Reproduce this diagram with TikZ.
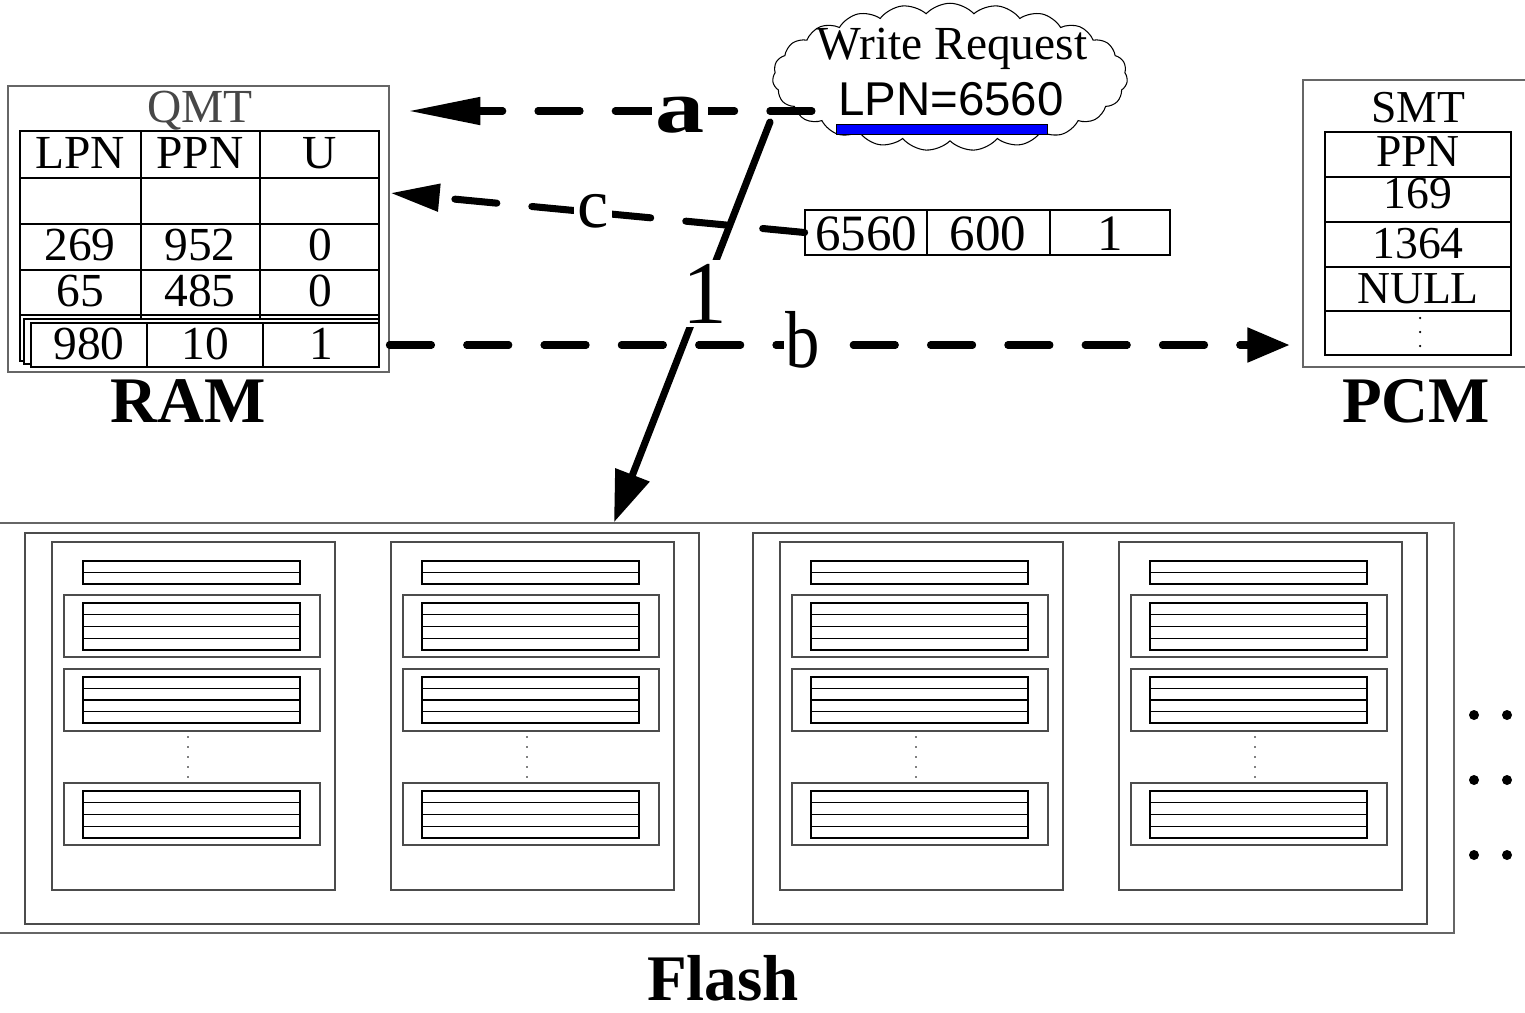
\documentclass[tikz,border=0pt]{standalone}
\usepackage{fontspec}
\setmainfont{Liberation Serif}
\newfontfamily\arialf{Liberation Sans}
\usetikzlibrary{shapes.symbols,arrows.meta,fit,calc}
\begin{document}
\begin{tikzpicture}[x=0.02cm,y=-0.02cm,
  framegray/.style={draw=black!60, line width=0.8pt},
  boxgray/.style={draw=black!70, line width=0.8pt},
  tbl/.style={draw=black, line width=1pt},
  cell/.style={anchor=base, inner sep=0pt, font=\fontsize{27}{30}\selectfont},
  scell/.style={anchor=base, inner sep=0pt, font=\fontsize{26}{29}\selectfont},
  ecell/.style={anchor=base, inner sep=0pt, font=\fontsize{29}{32}\selectfont},
  big/.style={anchor=base, inner sep=0pt, font=\bfseries\fontsize{37}{40}\selectfont},
  conn/.style={line width=4pt, line cap=round},
  dashconn/.style={conn, dash pattern=on 24pt off 20pt},
  lbl/.style={fill=white, inner sep=2pt, anchor=base},
  fitbox/.style={inner sep=0pt}]
\useasboundingbox (0,0) rectangle (1525,1012);

% ---------------- QMT (RAM) ----------------
\draw[framegray] (8,86) rectangle (389,372);
\node[fitbox, fit={(8,86)(389,372)}] (qmt) {};
\node[cell, text=black!72] (qmtt) at (200,122) {QMT};
% hidden stacked rows
\draw[tbl] (20,315) rectangle (379,361);
\draw[tbl] (141,315) -- (141,323) (260,315) -- (260,323);
\draw[tbl, fill=white] (24,319) rectangle (379,364);
% main table
\draw[tbl] (20,131) rectangle (379,315);
\draw[tbl] (20,178) -- (379,178) (20,224) -- (379,224) (20,270) -- (379,270);
\draw[tbl] (141,131) -- (141,315) (260,131) -- (260,315);
\draw[tbl] (141,315) -- (141,319) (260,315) -- (260,319);
% front row
\draw[tbl, fill=white] (31,323) rectangle (379,367);
\draw[tbl] (147,323) -- (147,367) (263,323) -- (263,367);
\node[cell] (q11) at (80,168) {LPN};
\node[cell] (q12) at (200,168) {PPN};
\node[cell] (q13) at (320,168) {U};
\node[cell] (q31) at (80,260) {269};
\node[cell] (q32) at (200,260) {952};
\node[cell] (q33) at (320,260) {0};
\node[cell] (q41) at (80,306) {65};
\node[cell] (q42) at (200,306) {485};
\node[cell] (q43) at (320,306) {0};
\node[cell] (q51) at (89,359) {980};
\node[cell] (q52) at (205,359) {10};
\node[cell] (q53) at (321,359) {1};
\node[big] (ram) at (188,422) {RAM};

% ---------------- SMT (PCM) ----------------
\draw[framegray] (1303,80) rectangle (1535,367);
\node[fitbox, fit={(1303,80)(1524,367)}] (smt) {};
\node[scell] (smtt) at (1418,122) {SMT};
\draw[tbl] (1325,132) rectangle (1511,355);
\draw[tbl] (1325,177) -- (1511,177) (1325,222) -- (1511,222) (1325,267) -- (1511,267) (1325,311) -- (1511,311);
\node[scell] (s1) at (1418,166) {PPN};
\node[scell] (s2) at (1418,208) {169};
\node[scell] (s3) at (1418,258) {1364};
\node[scell] (s4) at (1418,303) {NULL};
\foreach \yy in {318,332,346} \fill (1420,\yy) circle[radius=0.025cm];
\node[big] (pcm) at (1416,422) {PCM};

% ---------------- new entry ----------------
\draw[tbl] (805,210) rectangle (1170,255);
\draw[tbl] (927,210) -- (927,255) (1050,210) -- (1050,255);
\node[fitbox, fit={(805,210)(1170,255)}] (entry) {};
\node[ecell] (e1) at (866,250) {6560};
\node[ecell] (e2) at (988,250) {600};
\node[ecell] (e3) at (1110,250) {1};

% ---------------- write request cloud ----------------
\node[cloud, draw, fill=white, line width=0.6pt, cloud puffs=23, cloud puff arc=95,
      cloud ignores aspect, minimum width=7.1cm, minimum height=2.95cm, inner sep=0pt]
      (req) at (950,77) {};
\node[cell] (wr) at (952,59) {Write Request};
\draw[draw=black, line width=0.5pt, fill=blue] (836,124) rectangle (1047,134);
\node[cell, font=\arialf\fontsize{27}{30}\selectfont] (lpn) at (951,115) {LPN=6560};

% ---------------- Flash ----------------
\node[fitbox, fit={(-20,523)(1454,933)}, framegray] (flash) {};
\draw[boxgray] (25,533) rectangle (699,924);
\draw[boxgray] (753,533) rectangle (1427,924);
\foreach \px in {52,391,780,1119} {
  \begin{scope}[shift={(\px,0)}]
    \draw[boxgray] (0,542) rectangle (283,890);
    \draw[tbl, line width=0.8pt] (31,561) rectangle (248,584) (31,572.5) -- (248,572.5);
    \foreach \ya/\yb/\ia/\ib in {595/657/603/650, 669/731/677/723, 783/845/791/838} {
      \draw[boxgray] (12,\ya) rectangle (268,\yb);
      \draw[tbl, line width=0.8pt] (31,\ia) rectangle (248,\ib);
      \draw[tbl, line width=0.8pt] (31,{\ia+(\ib-\ia)/4}) -- (248,{\ia+(\ib-\ia)/4})
        (31,{\ia+(\ib-\ia)/2}) -- (248,{\ia+(\ib-\ia)/2})
        (31,{\ia+3*(\ib-\ia)/4}) -- (248,{\ia+3*(\ib-\ia)/4});
    }
    \foreach \yy in {737,747,757,767,777} \fill (136,\yy) circle[radius=0.018cm];
  \end{scope}
}
\foreach \xx in {1474,1507} \foreach \yy in {715,780,855} \fill (\xx,\yy) circle[radius=0.1cm];
\node[big] (flashl) at (723,1000) {Flash};

% ---------------- connectors ----------------
\coordinate (aS) at (812,111);
\coordinate (oneS) at (770,122);
\draw[dashconn, -{Triangle[length=41pt,width=15pt]}, shorten >=0.38cm] (aS) -- (aS -| qmt.east);
\draw[dashconn, -{Triangle[length=24pt,width=19pt]}, shorten >=0.26cm] (qmt.east |- 0,345) -- (smt.west |- 0,345);
\draw[dashconn, -{Triangle[length=28pt,width=15pt]}] (entry.west) -- ($(qmt.east)+(1,-36)$);
\draw[conn, -{Triangle[length=29pt,width=20pt]}] (oneS) -- (614,0 |- flash.north);

\node[lbl, font=\bfseries\fontsize{43}{46}\selectfont] (la) at (680,132) {\scalebox{1.3}[1]{a}};
\node[lbl, font=\fontsize{40}{44}\selectfont] (lc) at (593,227) {c};
\node[lbl, inner sep=1pt, font=\fontsize{46}{50}\selectfont] (lb) at (803,367) {\scalebox{0.85}[1]{b}};
\node[lbl, font=\fontsize{51}{55}\selectfont] (l1) at (705,323) {1};
\end{tikzpicture}
\end{document}
